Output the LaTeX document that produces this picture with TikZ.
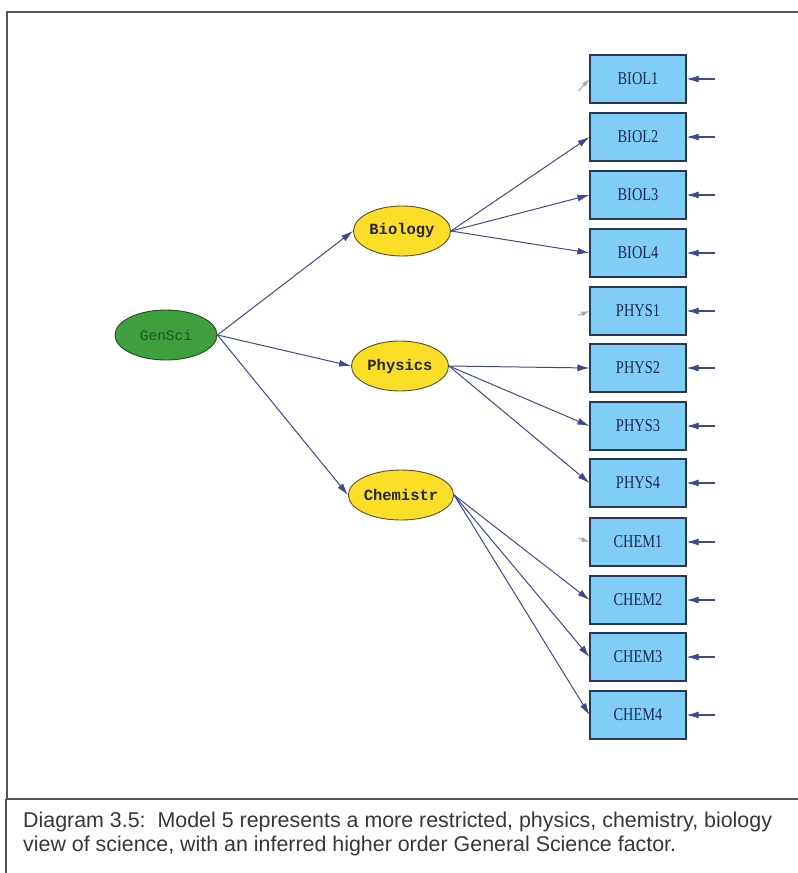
\documentclass[tikz,border=0pt]{standalone}
\usepackage{fontspec}
\setmainfont{Liberation Serif}
\newfontfamily\capfont{Liberation Sans}
\newfontfamily\boxfont[FakeStretch=0.8]{Liberation Serif}
\newfontfamily\latfont{Liberation Mono}
\usetikzlibrary{shapes.geometric,arrows.meta,calc}

\definecolor{boxblue}{RGB}{128,206,246}
\definecolor{boxedge}{RGB}{40,56,80}
\definecolor{latyellow}{RGB}{250,222,40}
\definecolor{latedge}{RGB}{90,80,40}
\definecolor{genGreen}{RGB}{64,160,64}
\definecolor{genEdge}{RGB}{40,70,40}
\definecolor{genText}{RGB}{40,80,40}
\definecolor{pathblue}{RGB}{62,74,140}
\definecolor{labelnavy}{RGB}{30,40,80}
\definecolor{framegrey}{RGB}{85,85,85}
\definecolor{captext}{RGB}{55,55,55}

\tikzset{
  indicator/.style={rectangle, draw=boxedge, fill=boxblue, line width=1.1pt,
    minimum width=96pt, minimum height=48pt, inner sep=0pt,
    font=\boxfont\fontsize{18}{18}\selectfont, text=labelnavy},
  latent/.style={ellipse, draw=latedge, fill=latyellow, line width=0.9pt,
    minimum width=97pt, minimum height=50pt, inner sep=0pt,
    font=\latfont\bfseries\fontsize{15.5}{15.5}\selectfont, text=black!85},
  general/.style={ellipse, draw=genEdge, fill=genGreen, line width=0.9pt,
    minimum width=102pt, minimum height=50pt, inner sep=0pt,
    font=\latfont\fontsize{14.5}{14.5}\selectfont, text=genText},
  loading/.style={draw=pathblue, line width=1pt,
    -{Latex[length=12pt,width=7pt]}},
  stub/.style={draw=black!35, line width=1pt,
    -{Latex[length=8pt,width=5pt]}},
  errarrow/.style={draw=pathblue, line width=1.1pt,
    -{Latex[length=12pt,width=7pt]}},
  frameline/.style={draw=framegrey, line width=1.3pt},
  caption/.style={anchor=base west, inner sep=0pt, text=captext,
    font=\capfont\fontsize{21.4}{24}\selectfont}
}

\begin{document}
\begin{tikzpicture}[x=1pt,y=-1pt]
  \useasboundingbox (0,0) rectangle (798,873);
  \fill[white] (0,0) rectangle (798,873);

  % outer frames
  \draw[frameline] (800,12) -- (7,12) -- (7,799) -- (800,799);
  \draw[frameline] (6,799) -- (6,875);

  % latent factors
  \node[general] (gen) at (166,335) {GenSci};
  \node[latent] (bio) at (402,231) {Biology};
  \node[latent] (phy) at (400,366) {Physics};
  \node[latent] (che) at (401,495) {Chemistr};

  % observed indicators
  \foreach \name/\lab/\y in {b1/BIOL1/79, b2/BIOL2/137, b3/BIOL3/195, b4/BIOL4/253,
                             p1/PHYS1/311, p2/PHYS2/368, p3/PHYS3/426, p4/PHYS4/483,
                             c1/CHEM1/542, c2/CHEM2/600, c3/CHEM3/657, c4/CHEM4/715}{
    \node[indicator] (\name) at (638,\y) {\lab};
    \coordinate (e\name) at (715,\y);
    \draw[errarrow] (e\name) -- (\name.east);
  }

  % second-order paths
  \draw[loading] (gen.east) -- (bio.west);
  \draw[loading] (gen.east) -- (phy.west);
  \draw[loading] (gen.east) -- (che.west);

  % first-order loadings
  \foreach \f/\a/\b/\c/\d in {bio/b1/b2/b3/b4, phy/p1/p2/p3/p4, che/c1/c2/c3/c4}{
    \draw[stub] ($(\f.east)!0.92!(\a.west)$) -- (\a.west);
    \draw[loading] (\f.east) -- (\b.west);
    \draw[loading] (\f.east) -- (\c.west);
    \draw[loading] (\f.east) -- (\d.west);
  }

  % caption
  \node[caption] (cap1) at (23,827) {Diagram 3.5:\ \ Model 5 represents a more restricted, physics, chemistry, biology};
  \node[caption] (cap2) at (23,851) {view of science, with an inferred higher order General Science factor.};
\end{tikzpicture}
\end{document}
